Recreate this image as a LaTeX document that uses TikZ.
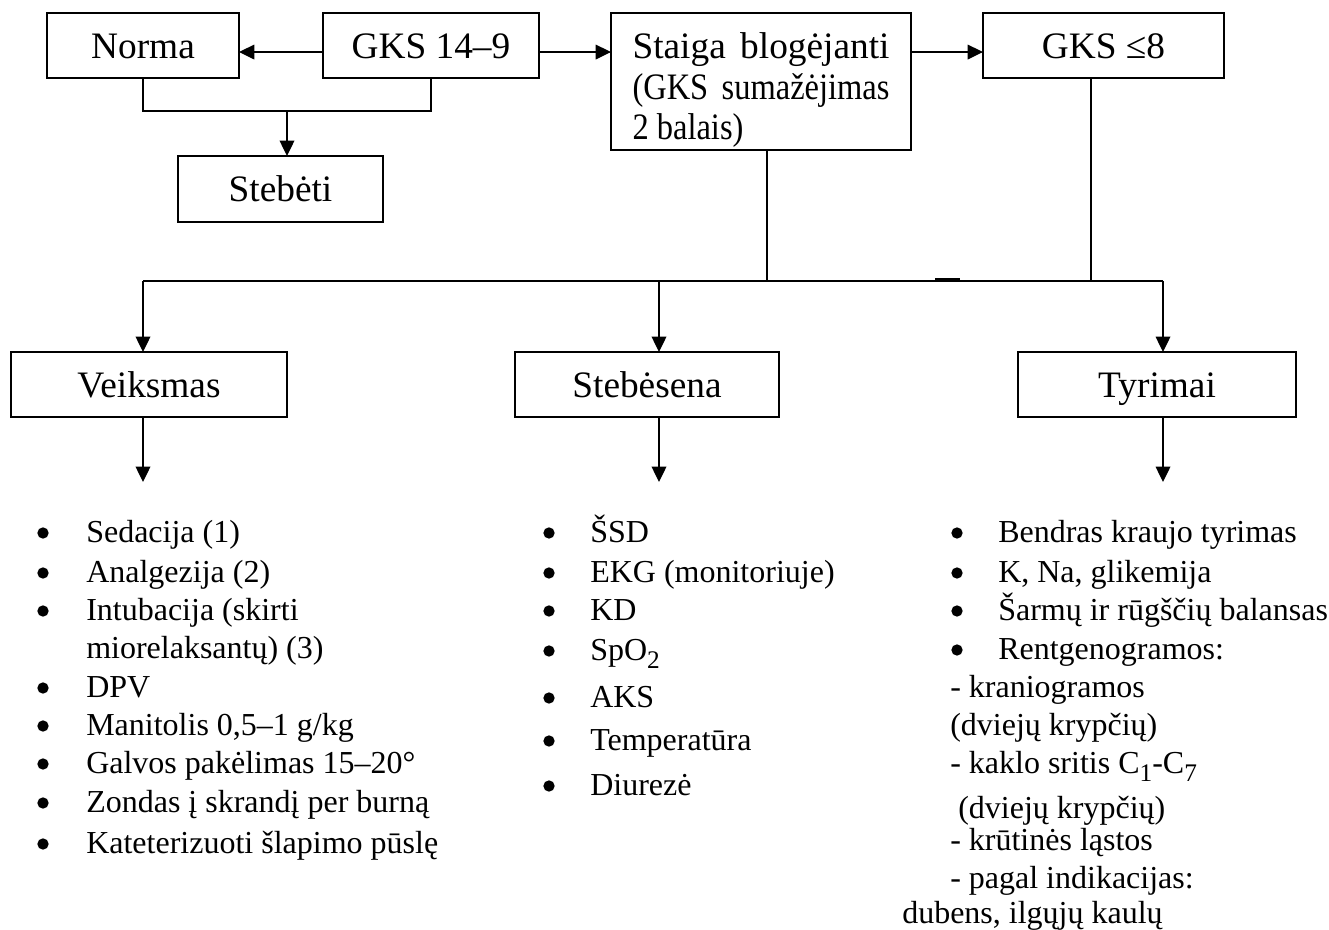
\documentclass[tikz,border=0pt]{standalone}
\usepackage{fontspec}
\setmainfont{Liberation Serif}
\usepackage{graphicx}
\usetikzlibrary{arrows.meta}
\newcommand{\cnd}[1]{\scalebox{0.87}[1]{#1}}
\newcommand{\sbs}[1]{\raisebox{-0.27em}{\fontsize{19}{19}\selectfont #1}}
\begin{document}
\begin{tikzpicture}[x=0.75pt,y=-0.75pt,
  box/.style={draw, line width=1.3pt, inner sep=0pt, outer sep=0pt, minimum height=48.75pt, font=\fontsize{28}{30.4}\selectfont},
  onebox/.style={box, text height=24pt, text depth=4.5pt},
  conn/.style={line width=1pt},
  arr/.style={line width=1pt, -{Triangle[length=11.5pt,width=11pt]}},
  item/.style={anchor=base west, inner sep=0pt, font=\fontsize{24}{28}\selectfont},
  dot/.style={circle, fill, inner sep=0pt, minimum size=8.5pt}]
\useasboundingbox (0,0) rectangle (1329,930);

% top row
\node[onebox, minimum width=144pt] (norma) at (143,45.5) {Norma};
\node[onebox, minimum width=162pt] (gks) at (431,45.5) {GKS 14–9};
\node[onebox, minimum width=153.75pt, minimum height=49.5pt] (stebeti) at (280.5,189) {Stebėti};
\node[box, minimum width=225pt, minimum height=102.75pt] (staiga) at (761,81.5)
  {\raisebox{-6.5pt}[\height][\depth]{\parbox{192.75pt}{\raggedright
   Staiga\hfill blogėjanti\\\cnd{(GKS}\hfill\cnd{sumažėjimas}\\\cnd{2 balais)}}}};
\node[onebox, minimum width=180.75pt] (gks8) at (1103.5,45.5) {GKS ≤8};

% second row
\node[onebox, minimum width=207pt] (veiksmas) at (149,384.5) {Veiksmas};
\node[onebox, minimum width=198pt] (stebesena) at (647,384.5) {Stebėsena};
\node[onebox, minimum width=208.5pt] (tyrimai) at (1157,384.5) {Tyrimai};

% coordinates
\coordinate (j1) at (287,111);
\coordinate (hL) at (143,281);
\coordinate (hM) at (659,281);
\coordinate (hR) at (1163,281);
\coordinate (dL) at (143,482);
\coordinate (dM) at (659,482);
\coordinate (dR) at (1163,482);

% top connectors
\draw[arr] ([yshift=-4.9pt]gks.west) -- ([yshift=-4.9pt]norma.east);
\draw[arr] ([yshift=-4.9pt]gks.east) -- ([yshift=-4.9pt]gks.east -| staiga.west);
\draw[arr] ([yshift=-4.9pt]gks8.west -| staiga.east) -- ([yshift=-4.9pt]gks8.west);
\draw[conn] (norma.south) |- (j1) -| (gks.south);
\draw[arr] (j1) -- (j1 |- stebeti.north);
\draw[conn] ([xshift=4.5pt]staiga.south) -- ([xshift=4.5pt]staiga.south |- hL);
\draw[conn] ([xshift=-9.375pt]gks8.south) -- ([xshift=-9.375pt]gks8.south |- hL);
\draw[conn] (hL) -- (hR);
\draw[line width=2.4pt] (935,280) -- (960,280);
\draw[arr] (hL) -- (hL |- veiksmas.north);
\draw[arr] (hM) -- (hM |- stebesena.north);
\draw[arr] (hR) -- (hR |- tyrimai.north);
\draw[arr] (dL |- veiksmas.south) -- (dL);
\draw[arr] (dM |- stebesena.south) -- (dM);
\draw[arr] (dR |- tyrimai.south) -- (dR);

% Veiksmas list
\foreach \yy [count=\i] in {542,582,620,697,735,773,812,853}
  \node[dot] (vb\i) at (43,\yy-9) {};
\node[item] (v1) at (86,542) {Sedacija (1)};
\node[item] (v2) at (86,582) {Analgezija (2)};
\node[item] (v3) at (86,620) {Intubacija (skirti};
\node[item] (v4) at (86,658) {miorelaksantų) (3)};
\node[item] (v5) at (86,697) {DPV};
\node[item] (v6) at (86,735) {Manitolis 0,5–1 g/kg};
\node[item] (v7) at (86,773) {Galvos pakėlimas 15–20°};
\node[item] (v8) at (86,812) {Zondas į skrandį per burną};
\node[item] (v9) at (86,853) {Kateterizuoti šlapimo pūslę};

% Stebesena list
\foreach \yy [count=\i] in {542,582,620,660,707,750,795}
  \node[dot] (sb\i) at (549,\yy-9) {};
\node[item] (s1) at (590,542) {ŠSD};
\node[item] (s2) at (590,582) {EKG (monitoriuje)};
\node[item] (s3) at (590,620) {KD};
\node[item] (s4) at (590,660) {SpO\sbs{2}};
\node[item] (s5) at (590,707) {AKS};
\node[item] (s6) at (590,750) {Temperatūra};
\node[item] (s7) at (590,795) {Diurezė};

% Tyrimai list
\foreach \yy [count=\i] in {542,582,620,659}
  \node[dot] (tb\i) at (957,\yy-9) {};
\node[item] (t1) at (998,542) {Bendras kraujo tyrimas};
\node[item] (t2) at (998,582) {K, Na, glikemija};
\node[item] (t3) at (998,620) {Šarmų ir rūgščių balansas};
\node[item] (t4) at (998,659) {Rentgenogramos:};
\node[item] (t5) at (950,697) {- kraniogramos};
\node[item] (t6) at (950,735) {(dviejų krypčių)};
\node[item] (t7) at (950,773) {- kaklo sritis C\sbs{1}-C\sbs{7}};
\node[item] (t8) at (958,818) {(dviejų krypčių)};
\node[item] (t9) at (950,850) {- krūtinės ląstos};
\node[item] (t10) at (950,888) {- pagal indikacijas:};
\node[item] (t11) at (902,923) {dubens, ilgųjų kaulų};
\end{tikzpicture}
\end{document}
